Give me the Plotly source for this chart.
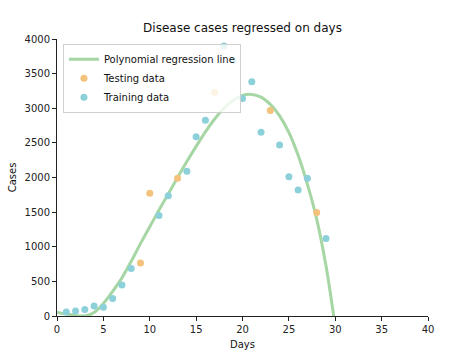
import plotly.graph_objects as go

train_days = [1, 2, 3, 4, 5, 6, 7, 8, 11, 12, 14, 15, 16, 18, 19, 20, 21, 22, 24, 25, 26, 27, 29]
train_cases = [58, 72, 93, 145, 126, 252, 449, 686, 1453, 1737, 2090, 2590, 2828, 3900, 3690, 3140, 3382, 2654, 2470, 2012, 1819, 1990, 1120]
test_days = [9, 10, 13, 17, 23, 28]
test_cases = [767, 1771, 1988, 3227, 2967, 1496]

# regression line values at each day
reg_days = list(range(0, 31))
reg_cases = [55, 28, 8, 0, 50, 180, 355, 550, 790, 1045, 1290, 1530, 1765, 2000, 2230, 2450,
             2660, 2845, 3000, 3115, 3185, 3200, 3160, 3055, 2890, 2650, 2320, 1900, 1400, 725, -150]

fig = go.Figure()
fig.add_trace(go.Scatter(x=reg_days, y=reg_cases, mode="lines", name="Polynomial regression line",
                         line=dict(color="#a6d6a4", width=3, shape="spline", smoothing=0.8)))
fig.add_trace(go.Scatter(x=test_days, y=test_cases, mode="markers", name="Testing data",
                         marker=dict(color="#f3c27c", size=7)))
fig.add_trace(go.Scatter(x=train_days, y=train_cases, mode="markers", name="Training data",
                         marker=dict(color="#8cd0da", size=7)))

axis_common = dict(showline=True, linecolor="#222", linewidth=1, ticks="outside", ticklen=4,
                   tickcolor="#222", showgrid=False, zeroline=False, automargin=False,
                   tickfont=dict(family="DejaVu Sans", size=10, color="#222"))
fig.update_layout(
    width=474, height=354,
    margin=dict(l=57, r=46, t=39, b=38),
    paper_bgcolor="white", plot_bgcolor="white",
    title=dict(text="Disease cases regressed on days", x=(57 + 428) / 2 / 474, xanchor="center",
               y=1 - 28 / 354, yanchor="middle",
               font=dict(family="DejaVu Sans", size=12, color="#111")),
    xaxis=dict(range=[0, 40], tickvals=[0, 5, 10, 15, 20, 25, 30, 35, 40],
               title=dict(text="Days", font=dict(family="DejaVu Sans", size=10, color="#111"), standoff=6),
               **axis_common),
    yaxis=dict(range=[0, 4000], tickvals=list(range(0, 4001, 500)),
               title=dict(text="Cases", font=dict(family="DejaVu Sans", size=10, color="#111"), standoff=6),
               **axis_common),
    legend=dict(x=0.016, y=0.983, xanchor="left", yanchor="top",
                bgcolor="rgba(255,255,255,0.8)", bordercolor="#d0d0d0", borderwidth=1,
                font=dict(family="DejaVu Sans", size=10, color="#111"),
                itemwidth=30, tracegroupgap=0),
    showlegend=True,
)

fig.write_html("out.html")
